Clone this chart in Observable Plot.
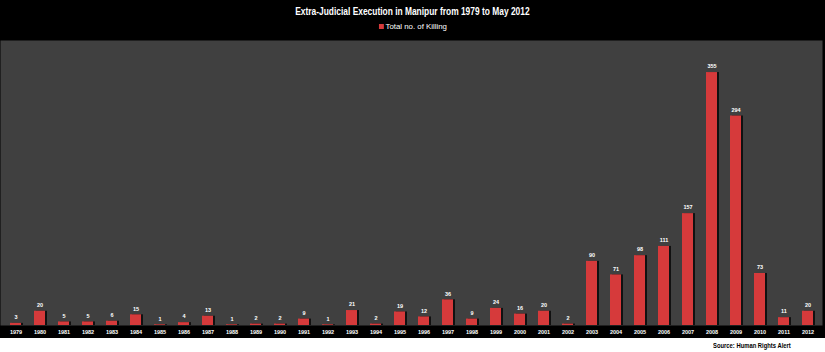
<!DOCTYPE html>
<html>
<head>
<meta charset="utf-8">
<script src="https://cdn.jsdelivr.net/npm/d3@7"></script>
<script src="https://cdn.jsdelivr.net/npm/@observablehq/plot@0.6"></script>
<style>
  body { margin: 0; background: #fff; width: 825px; height: 352px; overflow: hidden; font-family: "Liberation Sans", sans-serif; }
  #header { background: #000; height: 40px; width: 825px; position: relative; color: #fff; }
  #title { position: absolute; top: 6px; left: 0; width: 825px; text-align: center; font-weight: bold; font-size: 10px; transform: scaleX(0.84); transform-origin: 412px 0; }
  #legend { position: absolute; top: 22px; left: 0; width: 825px; text-align: center; font-size: 8px; transform: scaleX(0.98); transform-origin: 426px 0; }
  #legend .sw { display: inline-block; width: 5px; height: 5px; background: #d63a3b; margin-right: 2px; vertical-align: 0px; }
  #chart svg { display: block; }
  #source { height: 14px; width: 825px; position: relative; }
  #source span { position: absolute; left: 713px; top: 3px; font-weight: bold; font-size: 7.5px; color: #000; transform: scaleX(0.78); transform-origin: 0 0; white-space: nowrap; }
</style>
</head>
<body>
<div id="header">
  <div id="title">Extra-Judicial Execution in Manipur from 1979 to May 2012</div>
  <div id="legend"><span class="sw"></span>Total no. of Killing</div>
</div>
<div id="chart"></div>
<div id="source"><span>Source: Human Rights Alert</span></div>
<script>
const years = ["1979","1980","1981","1982","1983","1984","1985","1986","1987","1988","1989","1990","1991","1992","1993","1994","1995","1996","1997","1998","1999","2000","2001","2002","2003","2004","2005","2006","2007","2008","2009","2010","2011","2012"];
const killings = [3,20,5,5,6,15,1,4,13,1,2,2,9,1,21,2,19,12,36,9,24,16,20,2,90,71,98,111,157,355,294,73,11,20];

const data = years.map((y, i) => ({year: y, value: killings[i]}));

const chart = Plot.plot({
  width: 825,
  height: 298,
  marginTop: 0,
  marginLeft: 0,
  marginRight: 3,
  marginBottom: 13,
  style: { background: "#000", fontFamily: "Liberation Sans, sans-serif" },
  x: { domain: years, paddingInner: 0.55, paddingOuter: 0.275, label: null, tickSize: 0 },
  y: { domain: [0, 400], axis: null },
  marks: [
    Plot.frame({ fill: "#404040", stroke: null }),
    Plot.barY(data, { x: "year", y: "value", fill: "#111", dx: 2 }),
    Plot.barY(data, { x: "year", y: "value", fill: "#d63a3b" }),
    Plot.text(data, { x: "year", y: "value", text: d => String(d.value), dy: -6, fill: "#fff", fontSize: 5.5, fontWeight: "bold" }),
    Plot.axisX({ tickSize: 0, tickPadding: 5, fontSize: 5.5, fontWeight: "bold", color: "#fff", label: null })
  ]
});
document.getElementById("chart").appendChild(chart);
</script>
</body>
</html>
